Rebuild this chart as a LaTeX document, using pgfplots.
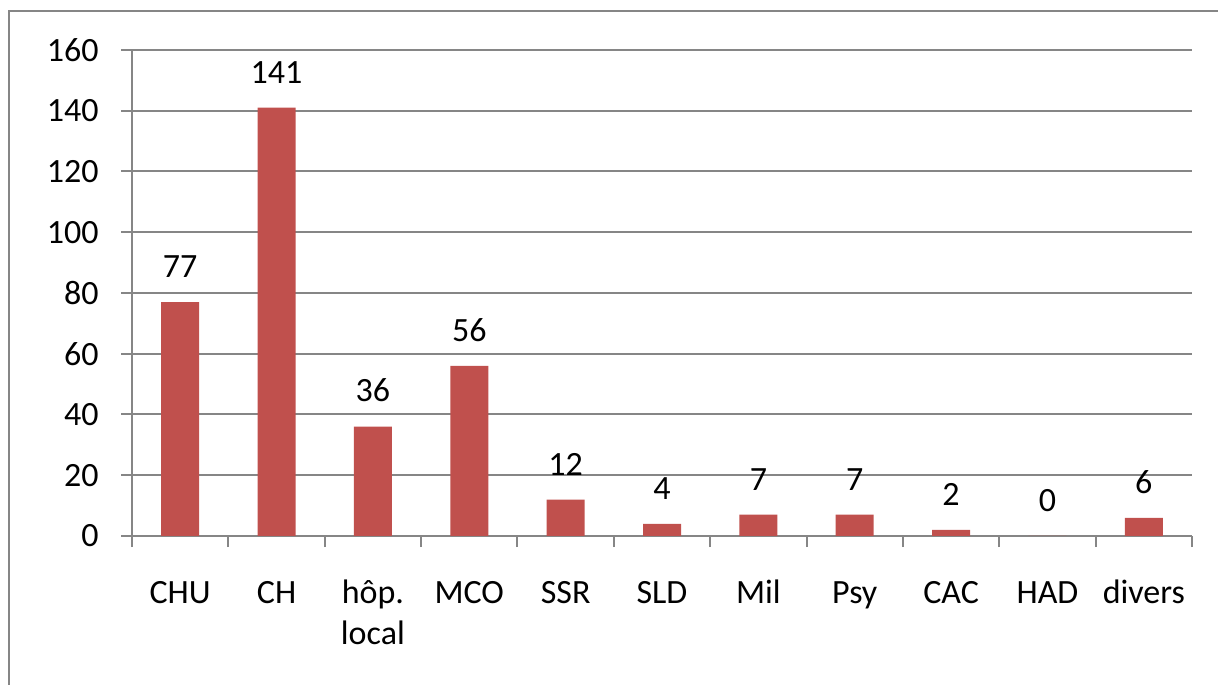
\documentclass[border=0pt]{standalone}
\usepackage{fontspec}
\setmainfont{Carlito}
\usepackage{pgfplots}
\pgfplotsset{compat=1.18}
\definecolor{barred}{RGB}{192,80,77}
\definecolor{axgray}{RGB}{134,134,134}

\begin{document}
\fontsize{17pt}{20.5pt}\selectfont
\begin{tikzpicture}[x=1pt,y=1pt]
% outer chart frame (cut off on the right and bottom like the reference)
\draw[axgray, line width=1pt] (4.5,-20) rectangle (640,336.5);
\begin{axis}[
    at={(66pt,74pt)}, anchor=south west,
    scale only axis, width=530pt, height=243pt,
    xmin=-0.5, xmax=10.5, ymin=0, ymax=160,
    ybar, bar width=19pt, bar shift=0pt,
    axis lines*=left,
    axis line style={axgray, line width=1pt},
    ymajorgrids,
    major grid style={axgray, line width=1pt},
    tick style={axgray, line width=1pt},
    tick align=outside, major tick length=5.5pt,
    ytick={0,20,...,160},
    xtick={-0.5,0.5,...,10.5}, xticklabels={},
    extra x ticks={0,1,...,10},
    extra x tick labels={\strut CHU,\strut CH,{\strut hôp.\\local},\strut MCO,\strut SSR,\strut SLD,\strut Mil,\strut Psy,\strut CAC,\strut HAD,\strut divers},
    extra x tick style={major tick length=0pt, grid=none,
        xticklabel style={align=center, inner sep=0pt, anchor=north, yshift=-19pt}},
    yticklabel style={inner sep=0pt, anchor=east, xshift=-11pt},
    /pgf/number format/assume math mode=true,
    nodes near coords,
    nodes near coords style={inner sep=0pt, anchor=south, yshift=12pt, text=black},
]
\addplot[fill=barred, draw=none] coordinates {
    (0,77) (1,141) (2,36) (3,56) (4,12) (5,4)
    (6,7) (7,7) (8,2) (9,0) (10,6)
};
\end{axis}
\pgfresetboundingbox
\useasboundingbox (0,0) rectangle (609,342);
\end{tikzpicture}
\end{document}
